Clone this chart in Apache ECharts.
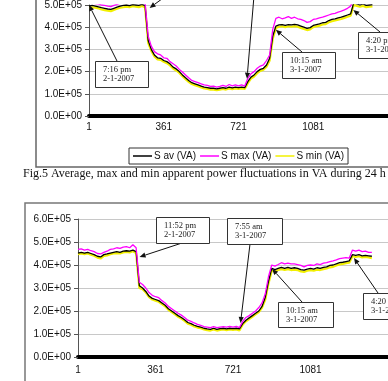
<!DOCTYPE html>
<html>
<head>
<meta charset="utf-8">
<script src="https://cdn.jsdelivr.net/npm/echarts@6/dist/echarts.min.js"></script>
<style>
html,body{margin:0;padding:0;background:#fff;}
#c{width:388px;height:381px;}
</style>
</head>
<body>
<div id="c"></div>
<script>
// sample positions (minute index, 0-based; label = index + 1)
const sampleIdx = Array.from({length: 92}, (_, i) => i * 15);
const xTicks = [1, 361, 721, 1081];
const seriesNames = ['S av (VA)', 'S max (VA)', 'S min (VA)'];
const caption = 'Fig.5 Average, max and min apparent power fluctuations in VA during 24 h';

// Values in units of 1E+05 VA — upper chart (Fig.5)
const topAv = [4.95,4.98,4.95,4.92,4.88,4.85,4.82,4.80,4.85,4.90,4.95,4.98,5.0,4.97,5.02,5.0,4.98,5.03,4.97,
  3.40,3.0,2.75,2.62,2.6,2.5,2.45,2.35,2.2,2.12,2.0,1.85,1.72,1.6,1.5,1.45,1.4,1.35,1.3,1.28,1.25,1.25,1.22,1.25,1.28,1.25,1.3,1.27,1.3,1.28,1.3,1.28,
  1.55,1.75,1.85,2.0,2.1,2.15,2.3,2.6,3.6,4.05,4.1,4.12,4.08,4.12,4.1,4.13,4.1,4.05,4.0,3.95,3.98,4.08,4.12,4.15,4.2,4.22,4.3,4.35,4.38,4.42,4.45,4.5,4.55,4.6,
  5.1,5.05,5.0,5.05,4.98,5.0,5.02];
const topMax = [5.08,5.1,5.06,5.05,5.0,4.98,4.95,4.93,4.98,5.03,5.08,5.1,5.12,5.1,5.15,5.12,5.1,5.16,5.1,
  3.6,3.15,2.9,2.8,2.75,2.62,2.6,2.45,2.35,2.25,2.1,1.98,1.85,1.72,1.6,1.55,1.5,1.45,1.4,1.38,1.33,1.35,1.3,1.33,1.38,1.33,1.42,1.36,1.4,1.36,1.4,1.35,
  1.7,1.9,2.0,2.15,2.25,2.3,2.5,2.75,3.9,4.4,4.45,4.38,4.42,4.48,4.4,4.45,4.38,4.35,4.3,4.22,4.25,4.35,4.38,4.42,4.45,4.5,4.55,4.6,4.62,4.68,4.72,4.78,4.85,4.95,
  5.3,5.25,5.2,5.22,5.15,5.18,5.15];
const topMin = [4.88,4.9,4.88,4.85,4.8,4.77,4.74,4.72,4.78,4.83,4.88,4.9,4.93,4.9,4.95,4.93,4.9,4.96,4.9,
  3.3,2.93,2.68,2.55,2.53,2.44,2.38,2.28,2.14,2.05,1.94,1.79,1.66,1.54,1.44,1.39,1.34,1.29,1.24,1.22,1.19,1.19,1.16,1.19,1.22,1.19,1.24,1.21,1.24,1.22,1.24,1.22,
  1.48,1.68,1.78,1.93,2.03,2.08,2.22,2.5,3.48,3.96,4.02,4.04,4.0,4.04,4.02,4.05,4.02,3.97,3.92,3.87,3.9,4.0,4.04,4.07,4.12,4.14,4.22,4.27,4.3,4.34,4.37,4.42,4.47,4.52,
  5.0,4.96,4.92,4.96,4.9,4.92,4.94];

// Values in units of 1E+05 VA — lower chart
const botAv = [4.52,4.55,4.52,4.55,4.5,4.45,4.38,4.35,4.45,4.48,4.52,4.55,4.58,4.55,4.6,4.62,4.6,4.65,4.58,
  3.1,3.0,2.85,2.65,2.55,2.5,2.45,2.35,2.25,2.1,2.0,1.9,1.8,1.72,1.62,1.5,1.45,1.38,1.33,1.3,1.25,1.22,1.2,1.25,1.2,1.23,1.25,1.22,1.25,1.23,1.25,1.22,
  1.45,1.6,1.7,1.8,1.9,2.0,2.2,2.6,3.3,3.85,3.8,3.85,3.9,3.85,3.9,3.85,3.88,3.85,3.8,3.78,3.82,3.85,3.82,3.88,3.85,3.9,3.92,3.98,4.0,4.05,4.1,4.12,4.15,4.18,
  4.45,4.42,4.45,4.4,4.42,4.4,4.38];
const botMax = [4.68,4.7,4.65,4.68,4.62,4.58,4.5,4.48,4.55,4.6,4.68,4.7,4.75,4.72,4.78,4.8,4.75,4.88,4.75,
  3.25,3.15,3.0,2.8,2.68,2.62,2.58,2.45,2.35,2.2,2.1,2.0,1.9,1.82,1.72,1.6,1.55,1.48,1.42,1.38,1.32,1.3,1.28,1.32,1.28,1.3,1.32,1.3,1.33,1.3,1.33,1.28,
  1.55,1.72,1.8,1.9,2.0,2.15,2.35,2.75,3.5,4.0,3.95,4.02,4.1,4.05,4.08,4.05,4.05,4.02,3.98,3.92,3.98,4.0,3.98,4.05,4.02,4.08,4.1,4.15,4.18,4.22,4.28,4.3,4.32,4.3,
  4.65,4.6,4.65,4.58,4.6,4.55,4.55];
const botMin = [4.47,4.5,4.47,4.5,4.45,4.4,4.32,4.28,4.4,4.42,4.47,4.5,4.52,4.5,4.55,4.57,4.55,4.6,4.52,
  3.0,2.95,2.8,2.6,2.5,2.45,2.4,2.3,2.2,2.05,1.95,1.85,1.75,1.67,1.57,1.45,1.4,1.33,1.28,1.25,1.2,1.17,1.15,1.2,1.15,1.18,1.2,1.17,1.2,1.18,1.2,1.15,
  1.4,1.55,1.65,1.75,1.85,1.95,2.15,2.5,3.2,3.75,3.72,3.78,3.82,3.78,3.82,3.78,3.8,3.78,3.72,3.7,3.75,3.78,3.75,3.8,3.78,3.82,3.85,3.9,3.92,3.98,4.02,4.05,4.08,4.1,
  4.38,4.35,4.38,4.33,4.35,4.33,4.3];

// annotations: [text lines, data point the arrow points to]
const topNotes = [
  {lines: ['7:16 pm', '2-1-2007'], at: [0, 5.0]},
  {lines: [], at: [292, 4.87]},
  {lines: [], at: [761, 1.68]},
  {lines: ['10:15 am', '3-1-2007'], at: [900, 3.88]},
  {lines: ['4:20 pm', '3-1-2007'], at: [1273, 4.78]}
];
const botNotes = [
  {lines: ['11:52 pm', '2-1-2007'], at: [286, 4.35]},
  {lines: ['7:55 am', '3-1-2007'], at: [755, 1.48]},
  {lines: ['10:15 am', '3-1-2007'], at: [902, 3.83]},
  {lines: ['4:20 pm', '3-1-2007'], at: [1282, 4.30]}
];

const SANS = '"Liberation Sans", Arial, sans-serif';
const SERIF = '"Liberation Serif", "Times New Roman", serif';
const colors = {av: '#000000', max: '#ff00ff', min: '#f2f000'};

function yAxisCfg(gi, maxV) {
  return {
    type: 'value', gridIndex: gi, min: 0, max: maxV, interval: 1,
    axisLine: {show: true, lineStyle: {color: '#555', width: 1}},
    axisTick: {show: true, length: 4, lineStyle: {color: '#555'}},
    splitLine: {show: true, lineStyle: {color: '#c8c8c8', width: 1}},
    axisLabel: {
      margin: 7, color: '#111', fontSize: 10, fontFamily: SANS,
      formatter: v => v === 0 ? '0.0E+00' : v.toFixed(1) + 'E+05'
    }
  };
}
function xAxisCfg(gi, margin) {
  return {
    type: 'value', gridIndex: gi, min: 0, max: 1440, interval: 360,
    axisLine: {show: true, onZero: true, lineStyle: {color: '#000', width: 4}},
    axisTick: {show: false},
    splitLine: {show: false},
    axisLabel: {
      margin: margin, color: '#111', fontSize: 10, fontFamily: SANS,
      showMaxLabel: false,
      formatter: v => xTicks.includes(v + 1) ? String(v + 1) : ''
    }
  };
}
function mk(name, arr, gi, color, width, z) {
  return {
    name: name, type: 'line', xAxisIndex: gi, yAxisIndex: gi,
    data: arr.map((v, i) => [sampleIdx[i], v]),
    showSymbol: false, symbol: 'none', animation: false, z: z,
    lineStyle: {color: color, width: width}, itemStyle: {color: color}
  };
}

const chart = echarts.init(document.getElementById('c'), null, {renderer: 'canvas'});
chart.setOption({
  animation: false,
  backgroundColor: '#fff',
  grid: [
    // upper chart: only the part up to 5.0E+05 is inside the picture
    {left: 89, top: 0, width: 300.8, height: 116},
    {left: 78, top: 219, width: 322.4, height: 138}
  ],
  xAxis: [xAxisCfg(0, 6), xAxisCfg(1, 8)],
  yAxis: [yAxisCfg(0, 5), yAxisCfg(1, 6)],
  legend: {
    data: seriesNames, left: 129, top: 148, orient: 'horizontal',
    borderColor: '#333', borderWidth: 1, padding: [3, 4, 3, 4],
    itemGap: 4, itemWidth: 19, itemHeight: 1.5, icon: 'rect',
    textStyle: {fontSize: 10, fontFamily: SANS, color: '#111', padding: [0, 0, 0, -3]},
    selectedMode: false
  },
  series: [
    mk(seriesNames[2], topMin, 0, colors.min, 2.2, 2),
    mk(seriesNames[0], topAv, 0, colors.av, 1.3, 3),
    mk(seriesNames[1], topMax, 0, colors.max, 1.3, 4),
    mk(seriesNames[2], botMin, 1, colors.min, 2.2, 2),
    mk(seriesNames[0], botAv, 1, colors.av, 1.3, 3),
    mk(seriesNames[1], botMax, 1, colors.max, 1.3, 4)
  ]
});

// annotation boxes (pixel layout) and arrows (tips from data coords)
const topBoxes = [
  {x: 95, y: 61, w: 53, h: 26, tail: [117, 61]},
  {x: null, tail: [166, -4]},
  {x: null, tail: [254, -4]},
  {x: 282, y: 52, w: 53, h: 26, tail: [302, 52]},
  {x: 358, y: 32, w: 53, h: 26, tail: [380, 32]}
];
const botBoxes = [
  {x: 156, y: 217, w: 53, h: 26, tail: [182, 243]},
  {x: 227, y: 218, w: 55, h: 26, tail: [250, 244]},
  {x: 278, y: 302, w: 55, h: 25, tail: [302, 302]},
  {x: 363, y: 293, w: 53, h: 26, tail: [378, 293]}
];

const g = [];
function arrow(tail, tip) {
  const dx = tip[0] - tail[0], dy = tip[1] - tail[1];
  const L = Math.hypot(dx, dy), ux = dx / L, uy = dy / L;
  const hl = 6, hw = 2.6;
  const bx = tip[0] - ux * hl, by = tip[1] - uy * hl;
  g.push({type: 'line', z: 50, shape: {x1: tail[0], y1: tail[1], x2: bx, y2: by}, style: {stroke: '#111', lineWidth: 1}});
  g.push({type: 'polygon', z: 50, shape: {points: [[tip[0], tip[1]], [bx - uy * hw, by + ux * hw], [bx + uy * hw, by - ux * hw]]}, style: {fill: '#111'}});
}
function box(b, lines) {
  if (b.x === null) return;
  g.push({type: 'rect', z: 60, shape: {x: b.x + 0.5, y: b.y + 0.5, width: b.w, height: b.h}, style: {fill: '#fff', stroke: '#333', lineWidth: 1}});
  lines.forEach((t, i) => {
    g.push({type: 'text', z: 61, x: b.x + 8, y: b.y + 8.5 + i * 9.5,
      style: {text: t, font: '8.5px ' + SERIF, fill: '#222', textVerticalAlign: 'middle', verticalAlign: 'middle'}});
  });
}
topNotes.forEach((n, i) => {
  const tip = chart.convertToPixel({gridIndex: 0}, n.at);
  arrow(topBoxes[i].tail, tip);
  box(topBoxes[i], n.lines);
});
botNotes.forEach((n, i) => {
  const tip = chart.convertToPixel({gridIndex: 1}, n.at);
  arrow(botBoxes[i].tail, tip);
  box(botBoxes[i], n.lines);
});

// outer chart frames
g.push({type: 'polyline', z: 40, shape: {points: [[36, -2], [36, 167], [392, 167]]}, style: {stroke: '#666', lineWidth: 1.5, fill: null}});
g.push({type: 'polyline', z: 40, shape: {points: [[25, 385], [25, 203], [392, 203]]}, style: {stroke: '#777', lineWidth: 1.5, fill: null}});
// caption
g.push({type: 'text', z: 40, x: 23, y: 174,
  style: {text: caption, font: '12px ' + SERIF, fill: '#111', textVerticalAlign: 'middle', verticalAlign: 'middle'}});

chart.setOption({graphic: g});
</script>
</body>
</html>
